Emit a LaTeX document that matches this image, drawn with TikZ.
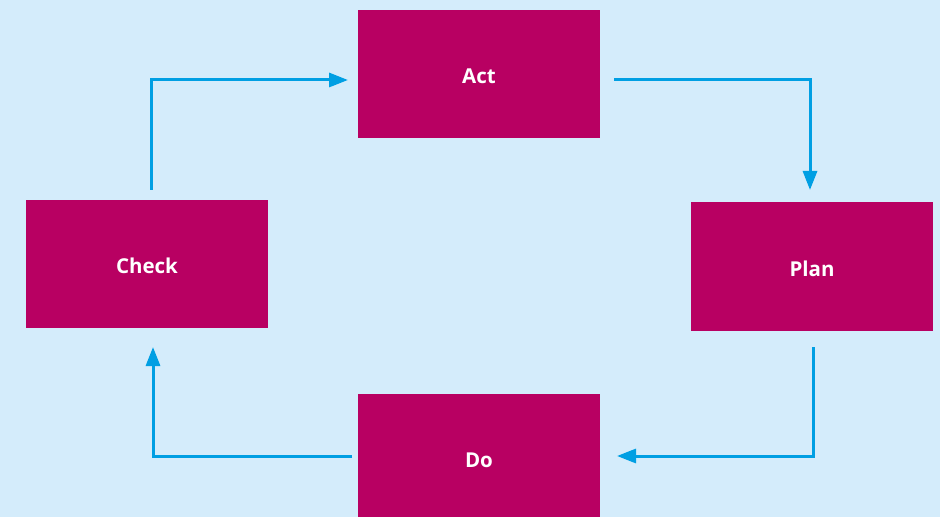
\documentclass[tikz,border=0pt]{standalone}
\usepackage{fontspec}
\setmainfont{Open Sans}
\usetikzlibrary{arrows.meta}
\definecolor{bgblue}{HTML}{D4ECFB}
\definecolor{boxred}{HTML}{B80062}
\definecolor{arrowblue}{HTML}{009FE3}
\tikzset{
  stagebox/.style={fill=boxred, draw=none, minimum width=242bp, minimum height=128bp,
    inner sep=0pt, text=white, font=\fontsize{20.5bp}{24bp}\selectfont\bfseries},
  flow/.style={draw=arrowblue, line width=3bp,
    -{Triangle[length=19bp,width=14bp]}}
}
\begin{document}
\begin{tikzpicture}[x=1bp,y=-1bp]
  \fill[bgblue] (0,0) rectangle (940,517);
  \useasboundingbox (0,0) rectangle (940,517);
  \node[stagebox] (act) at (479,74) {};
  \node[stagebox] (check) at (147,264) {};
  \node[stagebox] (plan) at (812,266.5) {};
  \node[stagebox] (do) at (479,458) {};
  \node[text=white, font=\fontsize{20.5bp}{24bp}\selectfont\bfseries, inner sep=0pt] (actl) at ([yshift=-2bp]act.center) {Act};
  \node[text=white, font=\fontsize{20.5bp}{24bp}\selectfont\bfseries, inner sep=0pt] (checkl) at ([yshift=-2bp]check.center) {Check};
  \node[text=white, font=\fontsize{20.5bp}{24bp}\selectfont\bfseries, inner sep=0pt] (planl) at ([yshift=-2bp]plan.center) {Plan};
  \node[text=white, font=\fontsize{20.5bp}{24bp}\selectfont\bfseries, inner sep=0pt] (dol) at ([yshift=-2bp]do.center) {Do};
  \coordinate (c1) at (151,190);
  \coordinate (a1) at (348,80);
  \coordinate (a2) at (614,80);
  \coordinate (p1) at (810,190);
  \coordinate (p2) at (813,347);
  \coordinate (d1) at (617,456);
  \coordinate (d2) at (352,456);
  \coordinate (c2) at (153,347);
  \draw[flow] (c1) |- (a1);
  \draw[flow] (a2) -| (p1);
  \draw[flow] (p2) |- (d1);
  \draw[flow] (d2) -| (c2);
\end{tikzpicture}
\end{document}
